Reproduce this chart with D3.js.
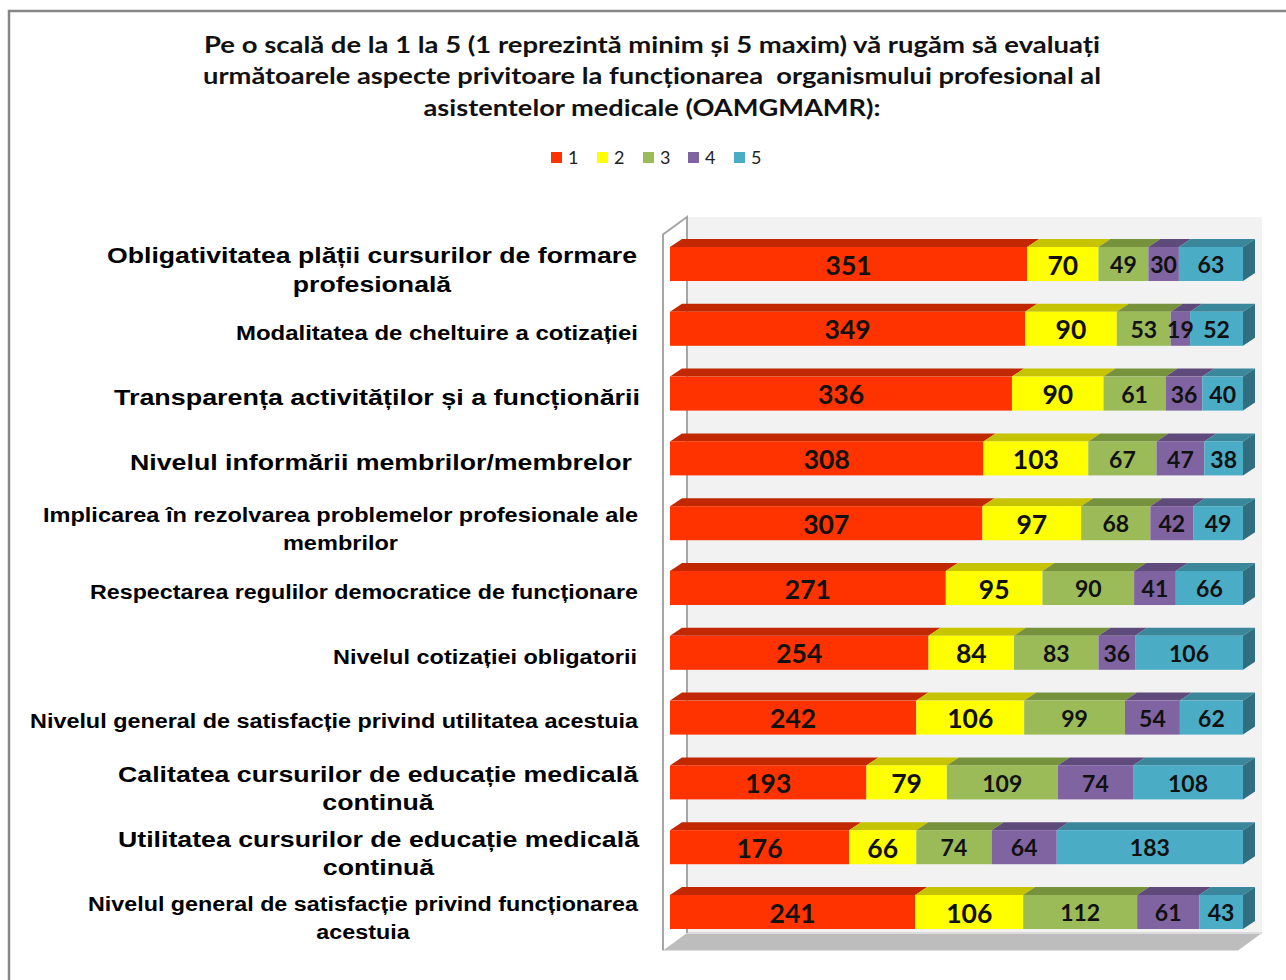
<!DOCTYPE html>
<html>
<head>
<meta charset="utf-8">
<script src="https://cdn.jsdelivr.net/npm/d3@7/dist/d3.min.js"></script>
<style>
  html, body { margin: 0; padding: 0; background: #fff; }
  svg { display: block; }
</style>
</head>
<body>
<svg id="chart" width="1286" height="980"></svg>
<script>
// ---------------- DATA ----------------
const titleLines = [
  "Pe o scală de la 1 la 5 (1 reprezintă minim și 5 maxim) vă rugăm să evaluați",
  "următoarele aspecte privitoare la funcționarea  organismului profesional al",
  "asistentelor medicale (OAMGMAMR):"
];
const seriesNames = ["1", "2", "3", "4", "5"];
const categories = [
  "Obligativitatea plății cursurilor de formare\nprofesională",
  "Modalitatea de cheltuire a cotizației",
  "Transparența activităților și a funcționării",
  "Nivelul informării membrilor/membrelor",
  "Implicarea în rezolvarea problemelor profesionale ale\nmembrilor",
  "Respectarea regulilor democratice de funcționare",
  "Nivelul cotizației obligatorii",
  "Nivelul general de satisfacție privind utilitatea acestuia",
  "Calitatea cursurilor de educație medicală\ncontinuă",
  "Utilitatea cursurilor de educație medicală\ncontinuă",
  "Nivelul general de satisfacție privind funcționarea\nacestuia"
];
const values1 = [351, 349, 336, 308, 307, 271, 254, 242, 193, 176, 241];
const values2 = [70, 90, 90, 103, 97, 95, 84, 106, 79, 66, 106];
const values3 = [49, 53, 61, 67, 68, 90, 83, 99, 109, 74, 112];
const values4 = [30, 19, 36, 47, 42, 41, 36, 54, 74, 64, 61];
const values5 = [63, 52, 40, 38, 49, 66, 106, 62, 108, 183, 43];

// ---------------- STYLE ----------------
const frontColors = ["#ff3300", "#ffff00", "#9bbb59", "#8064a2", "#4bacc6"];
const topColors   = ["#c22800", "#c6c300", "#76923c", "#5f4b7b", "#3a879c"];
const sideColor   = "#2f6f80";
const catFont = [22, 19.5, 22, 22, 19.5, 19.5, 19.5, 19.5, 22, 22, 19.5];
const catWidth = [530, 402, 526, 502, 595, 548, 304, 608, 520, 521, 550];
const catRight = [637, 638, 640, 632, 638, 638, 637, 638, 638, 639, 638];

const svg = d3.select("#chart");

// outer frame
svg.append("rect").attr("x", 9).attr("y", 11).attr("width", 1400).attr("height", 1100)
  .attr("fill", "none").attr("stroke", "#878787").attr("stroke-width", 2.5);

// title
const title = svg.append("g");
const titleY = [45, 76, 108];
const titleW = [896, 898, 457];
titleLines.forEach((t, i) => {
  title.append("text")
    .attr("x", 652).attr("y", titleY[i]).attr("dy", "0.35em")
    .attr("text-anchor", "middle")
    .attr("font-family", "Lato, 'Open Sans', sans-serif")
    .attr("font-weight", "bold").attr("font-size", 22.5)
    .attr("fill", "#111")
    .style("white-space", "pre")
    .attr("textLength", titleW[i]).attr("lengthAdjust", "spacingAndGlyphs")
    .text(t);
});

// legend
const legend = svg.append("g");
const legendX = [551, 597, 643, 688, 734];
seriesNames.forEach((s, i) => {
  legend.append("rect").attr("x", legendX[i]).attr("y", 152).attr("width", 11).attr("height", 11)
    .attr("fill", frontColors[i]);
  legend.append("text").attr("x", legendX[i] + 17).attr("y", 158).attr("dy", "0.35em")
    .attr("font-family", "Lato, sans-serif").attr("font-size", 18).attr("fill", "#222")
    .text(s);
});

// ---------------- SCALES ----------------
const rows = categories.map((c, i) => ({
  cat: c, "1": values1[i], "2": values2[i], "3": values3[i], "4": values4[i], "5": values5[i]
}));
const totals = rows.map(r => seriesNames.reduce((a, k) => a + r[k], 0));
const x = d3.scaleLinear().domain([0, d3.max(totals)]).range([670, 1243]);
const y = d3.scaleBand().domain(categories).range([231.6, 944.4])
  .paddingInner(0.475).paddingOuter(0.2375);
const dx = 12, dy = 8;

// ---------------- 3D WALLS ----------------
const wallDX = 24, wallDY = 17.5;
const backLeft = 687, backRight = 1262, backTop = 217, floorBack = 933;
svg.append("rect").attr("x", backLeft).attr("y", backTop)
  .attr("width", backRight - backLeft).attr("height", floorBack - backTop).attr("fill", "#f2f2f2");
svg.append("polygon")
  .attr("points", [[backLeft - wallDX, floorBack + wallDY], [backRight - wallDX, floorBack + wallDY],
                   [backRight, floorBack], [backLeft, floorBack]].map(p => p.join(",")).join(" "))
  .attr("fill", "#bdbdbd");
svg.append("line").attr("x1", backLeft).attr("x2", backRight).attr("y1", floorBack).attr("y2", floorBack)
  .attr("stroke", "#dcdcdc").attr("stroke-width", 2);
const lw = svg.append("g").attr("stroke", "#a6a6a6").attr("stroke-width", 2).attr("fill", "none");
lw.append("polyline").attr("points",
  [[backLeft - wallDX, floorBack + wallDY], [backLeft - wallDX, backTop + wallDY], [backLeft, backTop], [backLeft, floorBack]]
  .map(p => p.join(",")).join(" "));

// ---------------- BARS ----------------
const stack = d3.stack().keys(seriesNames)(rows);
const bars = svg.append("g");
rows.forEach((r, i) => {
  const y0 = y(r.cat), h = y.bandwidth();
  const g = bars.append("g");
  stack.forEach((s, k) => {
    const a = x(s[i][0]), b = x(s[i][1]);
    g.append("polygon").attr("points",
      [[a, y0], [b, y0], [b + dx, y0 - dy], [a + dx, y0 - dy]].map(p => p.join(",")).join(" "))
      .attr("fill", topColors[k]);
  });
  const last = stack[stack.length - 1][i];
  const e = x(last[1]);
  g.append("polygon").attr("points",
    [[e, y0], [e + dx, y0 - dy], [e + dx, y0 + h - dy], [e, y0 + h]].map(p => p.join(",")).join(" "))
    .attr("fill", sideColor);
  stack.forEach((s, k) => {
    const a = x(s[i][0]), b = x(s[i][1]);
    g.append("rect").attr("x", a).attr("y", y0).attr("width", b - a).attr("height", h)
      .attr("fill", frontColors[k]);
  });
  stack.forEach((s, k) => {
    const a = x(s[i][0]), b = x(s[i][1]);
    g.append("text").attr("x", (a + b) / 2).attr("y", y0 + h / 2 + 1).attr("dy", "0.36em")
      .attr("text-anchor", "middle")
      .attr("font-family", "Lato, sans-serif").attr("font-weight", "bold")
      .attr("font-size", k < 2 ? 26.5 : 23)
      .attr("fill", "#111")
      .text(s[i].data[seriesNames[k]]);
  });
});

// ---------------- CATEGORY LABELS ----------------
const labels = svg.append("g");
categories.forEach((c, i) => {
  const lines = c.split("\n");
  const cy = y(c) + y.bandwidth() / 2;
  const lh = 28.5;
  const startY = cy + 4 - (lines.length - 1) * lh / 2 + (lines.length > 1 ? 2 : 0);
  const blockCenter = catRight[i] - catWidth[i] / 2;
  const first = labels.append("text")
    .attr("x", blockCenter).attr("y", startY).attr("dy", "0.35em")
    .attr("text-anchor", "middle")
    .attr("font-family", "'Liberation Sans', Arial, sans-serif").attr("font-weight", "bold")
    .attr("font-size", catFont[i]).attr("fill", "#000")
    .text(lines[0]);
  const nat = first.node().getComputedTextLength();
  const ratio = catWidth[i] / nat;
  first.attr("textLength", catWidth[i]).attr("lengthAdjust", "spacingAndGlyphs");
  for (let j = 1; j < lines.length; j++) {
    const t = labels.append("text")
      .attr("x", blockCenter).attr("y", startY + j * lh).attr("dy", "0.35em")
      .attr("text-anchor", "middle")
      .attr("font-family", "'Liberation Sans', Arial, sans-serif").attr("font-weight", "bold")
      .attr("font-size", catFont[i]).attr("fill", "#000")
      .text(lines[j]);
    const n2 = t.node().getComputedTextLength();
    t.attr("textLength", n2 * ratio).attr("lengthAdjust", "spacingAndGlyphs");
  }
});
</script>
</body>
</html>
